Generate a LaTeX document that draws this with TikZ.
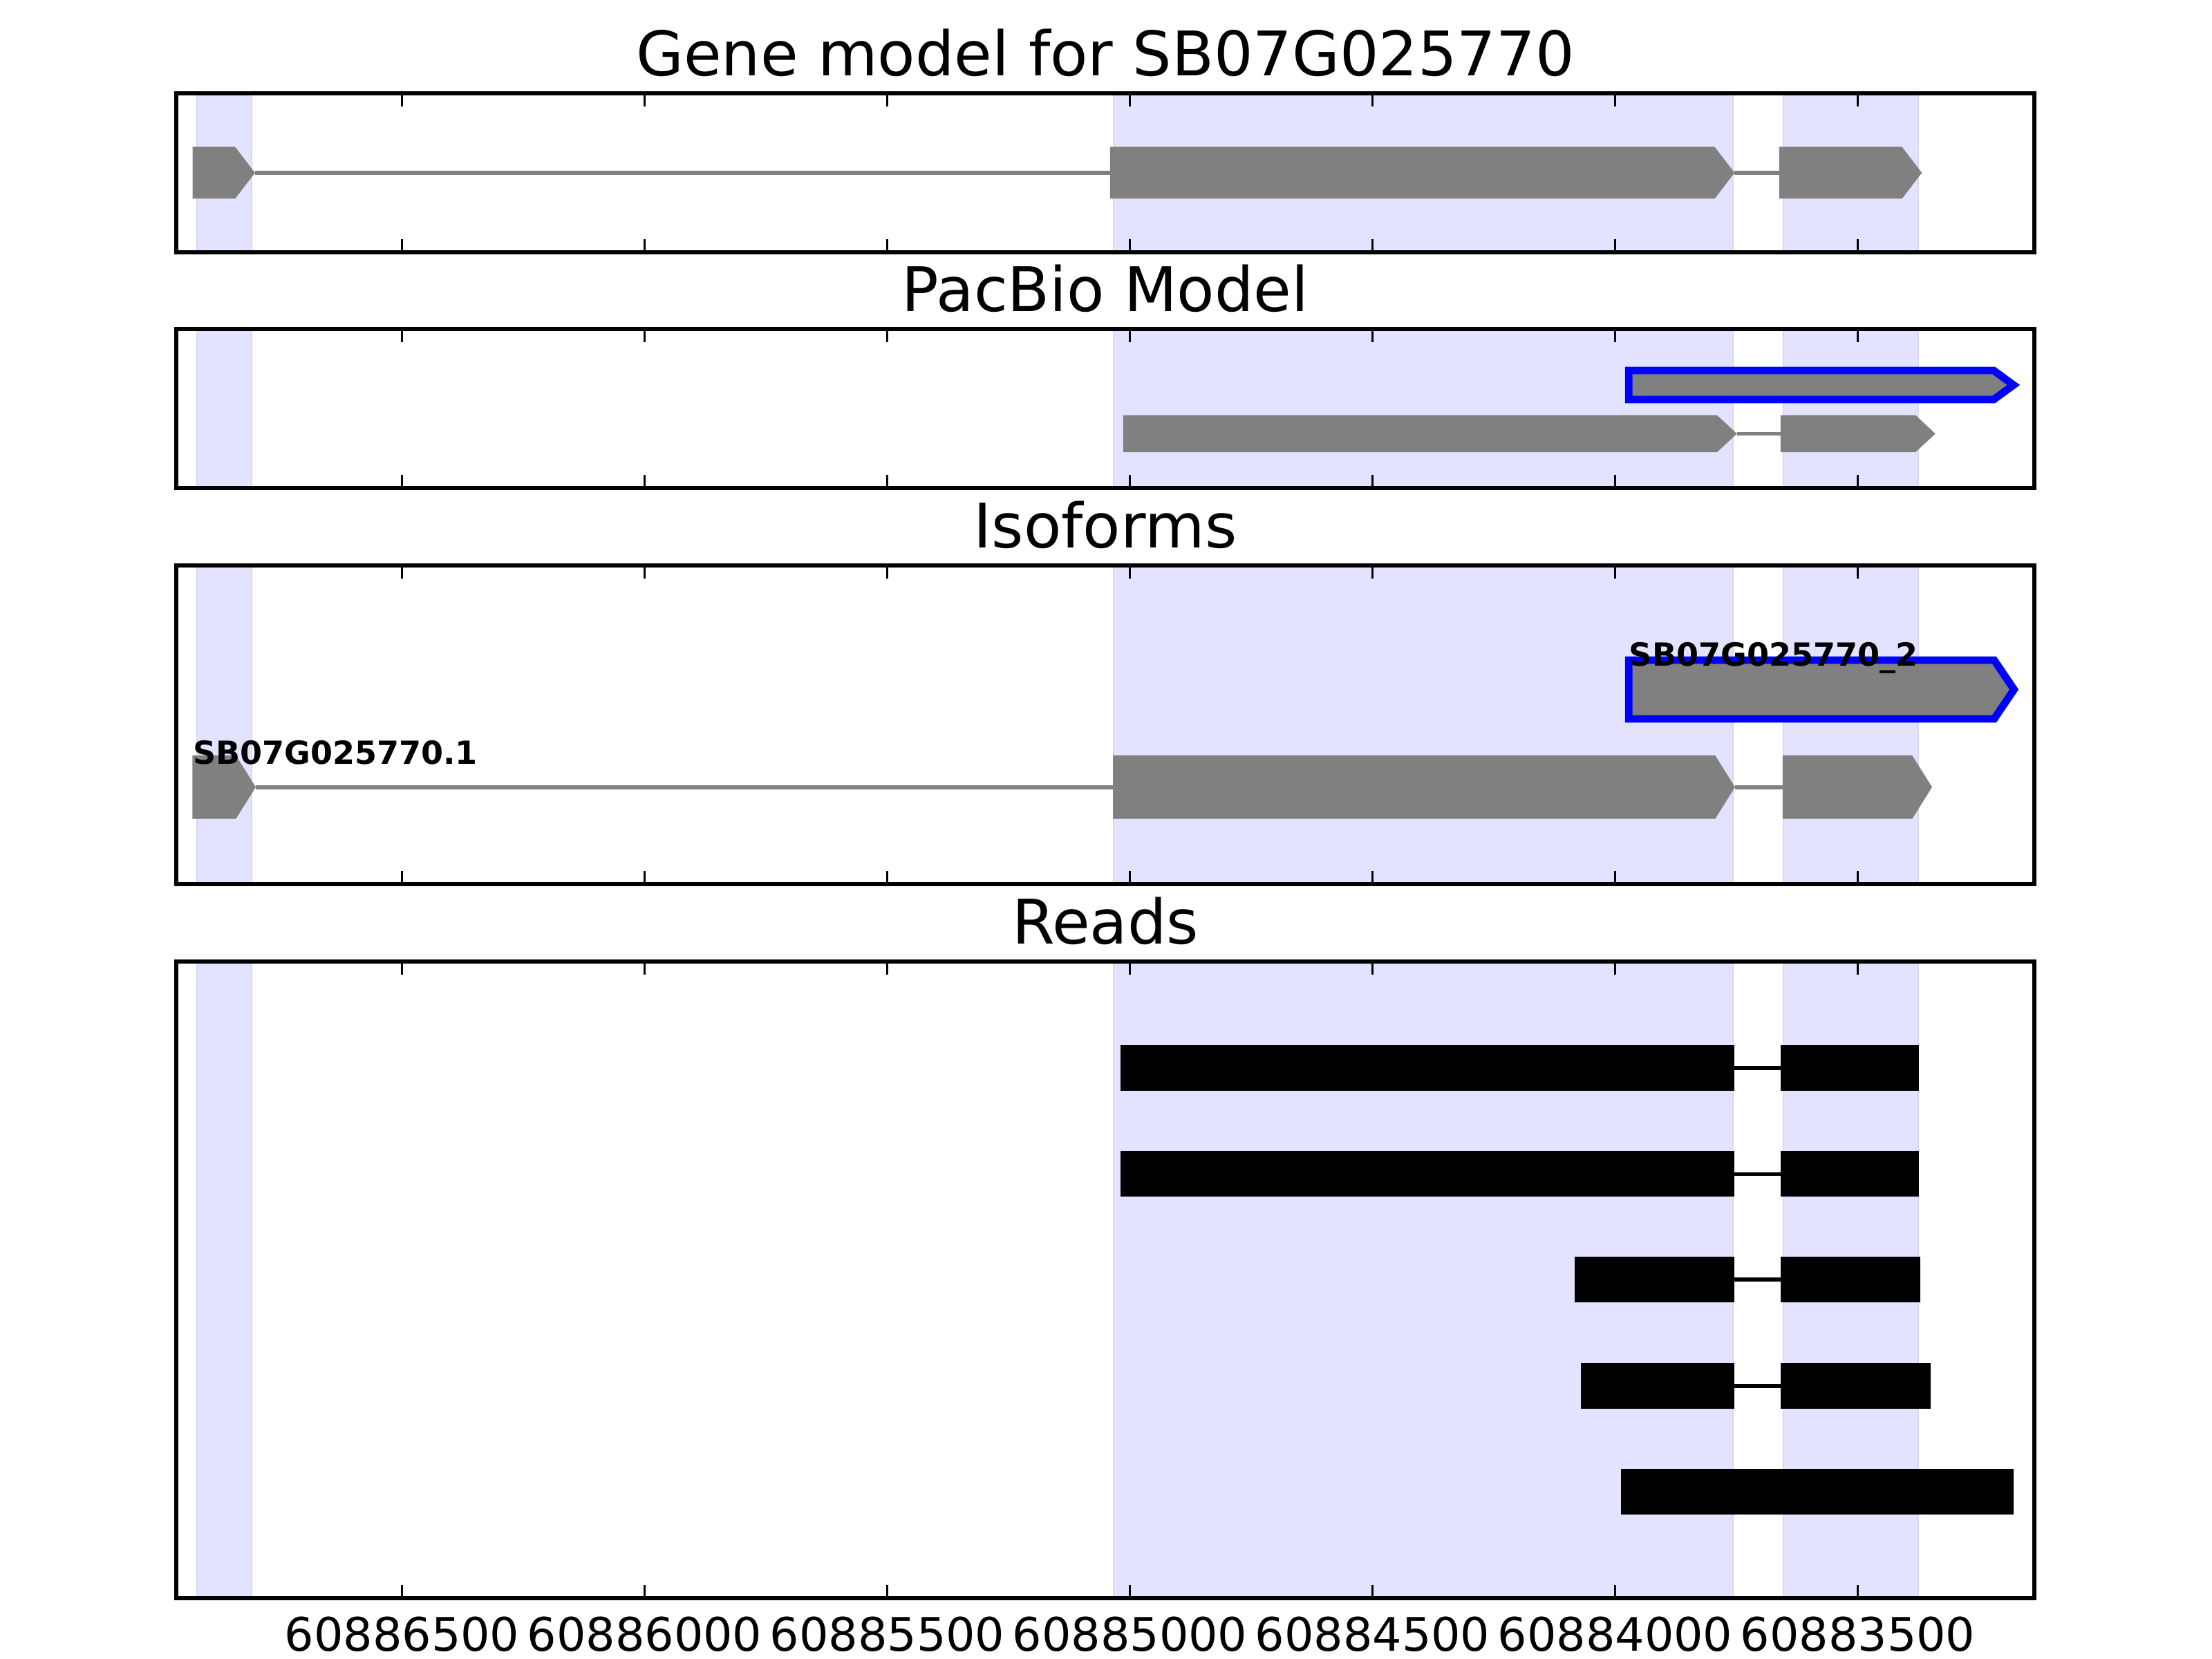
\documentclass[tikz,border=0pt]{standalone}
\usepackage{fontspec}
\setmainfont{DejaVu Sans}
\usepackage{tikz}
\definecolor{bandblue}{RGB}{227,227,255}
\definecolor{bandedge}{RGB}{216,216,238}
\definecolor{exongray}{RGB}{128,128,128}

% exon with a pointed end: name, style, start, end, y, half height
\newcommand\exon[6]{%
  \draw[#2] (#3,#5-#6) -- (#4-0.41,#5-#6) -- (#4,#5) -- (#4-0.41,#5+#6) -- (#3,#5+#6) -- cycle;
  \coordinate (#1-l) at (#3,#5);
  \coordinate (#1-r) at (#4,#5);}
% one block of a read: name, start, end, y, half height
\newcommand\readbar[5]{%
  \fill[black] (#2,#4-#5) rectangle (#3,#4+#5);
  \coordinate (#1-l) at (#2,#4);
  \coordinate (#1-r) at (#3,#4);}

\begin{document}
\begin{tikzpicture}[y=-1cm,
  title/.style={font=\fontsize{25.3}{30}\selectfont,anchor=base},
  ticklabel/.style={font=\fontsize{19}{23}\selectfont,anchor=base},
  isolabel/.style={font=\fontsize{13.1}{15}\selectfont\bfseries,anchor=base west,inner sep=0pt},
  exonband/.style={fill=bandblue,draw=bandedge,line width=0.6pt},
  model/.style={fill=exongray,draw=none},
  pacbio/.style={fill=exongray,draw=blue,line width=3.1pt,miter limit=20},
  intron/.style={draw=exongray,line width=1.6pt},
  readline/.style={draw=black,line width=1.6pt},
  panelframe/.style={draw=black,line width=1.6pt},
  tickmark/.style={draw=black,line width=0.8pt}]
  \useasboundingbox (0,0) rectangle (32,24);

  % shaded exon bands and titles
  \foreach \name/\top/\bot/\ttl in {gene/1.35/3.65/Gene model for SB07G025770,
      pac/4.76/7.06/PacBio Model, iso/8.18/12.79/Isoforms, reads/13.91/23.12/Reads} {
    \begin{scope}[x=0.702cm,xshift=2.306cm]
      \foreach \s/\e in {0.77/1.90, 19.66/32.43, 33.47/36.25}
        \draw[exonband] (\s,\top) rectangle (\e,\bot);
    \end{scope}
    \node[title] (\name-title) at (15.99,\top-0.25) {\ttl};
  }

  \begin{scope}[x=0.702cm,xshift=2.306cm]
    % gene model
    \exon{g1}{model}{0.685}{1.97}{2.50}{0.375}
    \exon{g2}{model}{19.59}{32.46}{2.50}{0.375}
    \exon{g3}{model}{33.38}{36.32}{2.50}{0.375}
    \draw[intron] (g1-r) -- (g2-l) (g2-r) -- (g3-l);

    % pacbio model
    \exon{p0}{pacbio}{30.28}{38.21}{5.57}{0.21}
    \exon{p1}{model}{19.86}{32.51}{6.274}{0.267}
    \exon{p2}{model}{33.41}{36.60}{6.274}{0.267}
    \draw[intron] (p1-r) -- (p2-l);

    % isoforms
    \exon{i0}{pacbio}{30.28}{38.22}{9.975}{0.425}
    \exon{i1}{model}{0.681}{1.986}{11.387}{0.46}
    \exon{i2}{model}{19.65}{32.47}{11.387}{0.46}
    \exon{i3}{model}{33.45}{36.53}{11.387}{0.46}
    \draw[intron] (i1-r) -- (i2-l) (i2-r) -- (i3-l);
    \node[isolabel] (i0-name) at (30.28,9.975-0.34) {SB07G025770\_2};
    \node[isolabel] (i1-name) at (0.681,11.387-0.335) {SB07G025770.1};

    % reads
    \readbar{r1a}{19.81}{32.46}{15.45}{0.33}
    \readbar{r1b}{33.41}{36.26}{15.45}{0.33}
    \readbar{r2a}{19.81}{32.46}{16.984}{0.33}
    \readbar{r2b}{33.41}{36.26}{16.984}{0.33}
    \readbar{r3a}{29.17}{32.46}{18.51}{0.33}
    \readbar{r3b}{33.41}{36.29}{18.51}{0.33}
    \readbar{r4a}{29.30}{32.46}{20.047}{0.33}
    \readbar{r4b}{33.41}{36.50}{20.047}{0.33}
    \readbar{r5a}{30.12}{38.21}{21.576}{0.33}
    \foreach \r in {r1,r2,r3,r4}
      \draw[readline] (\r a-r) -- (\r b-l);

    % ticks and labels
    \foreach \top/\bot in {1.35/3.65, 4.76/7.06, 8.18/12.79, 13.91/23.12}
      \foreach \t in {5,10,...,35} {
        \draw[tickmark] (\t,\top) -- ++(0,0.19);
        \draw[tickmark] (\t,\bot) -- ++(0,-0.19);
      }
    \foreach \t/\lab in {5/60886500, 10/60886000, 15/60885500, 20/60885000,
        25/60884500, 30/60884000, 35/60883500}
      \node[ticklabel] (tl-\t) at (\t,23.88) {\lab};
  \end{scope}

  % panel frames
  \foreach \top/\bot in {1.35/3.65, 4.76/7.06, 8.18/12.79, 13.91/23.12}
    \draw[panelframe] (2.55,\top) rectangle (29.43,\bot);
\end{tikzpicture}
\end{document}
